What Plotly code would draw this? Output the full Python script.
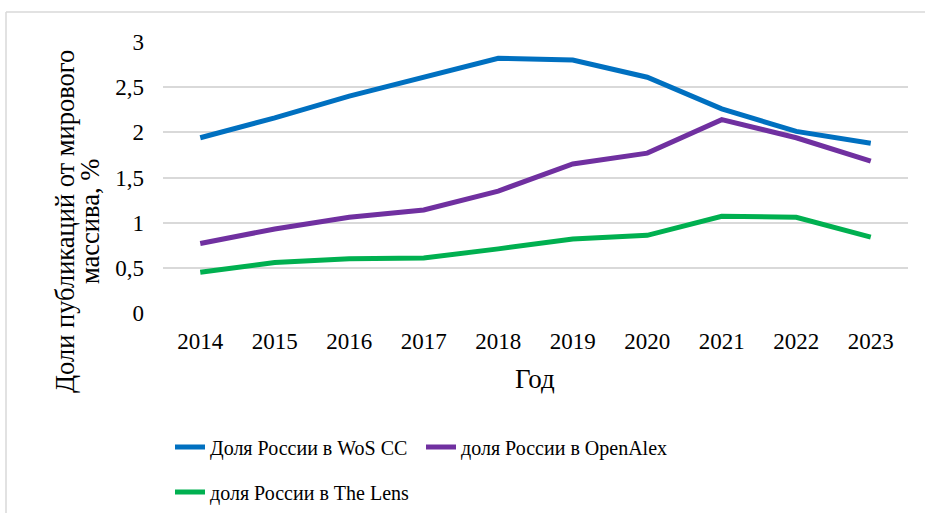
import plotly.graph_objects as go

years = ["2014", "2015", "2016", "2017", "2018", "2019", "2020", "2021", "2022", "2023"]
wos = [1.94, 2.16, 2.40, 2.61, 2.82, 2.80, 2.61, 2.26, 2.01, 1.88]
openalex = [0.77, 0.93, 1.06, 1.14, 1.35, 1.65, 1.77, 2.14, 1.94, 1.68]
lens = [0.45, 0.56, 0.60, 0.61, 0.71, 0.82, 0.86, 1.07, 1.06, 0.84]

names = ["Доля России в WoS CC", "доля России в OpenAlex", "доля России в The Lens"]
colors = ["#0070C0", "#7030A0", "#00B050"]
FONT = "Times New Roman, Liberation Serif, DejaVu Serif, serif"

fig = go.Figure()
fig.add_trace(go.Scatter(x=years, y=wos, mode="lines", name=names[0],
                         line=dict(color=colors[0], width=5), legend="legend"))
fig.add_trace(go.Scatter(x=years, y=openalex, mode="lines", name=names[1],
                         line=dict(color=colors[1], width=5), legend="legend"))
fig.add_trace(go.Scatter(x=years, y=lens, mode="lines", name=names[2],
                         line=dict(color=colors[2], width=5), legend="legend2"))

L, R, T, B = 163, 17, 42, 200
W, H = 925, 513
pw, ph = W - L - R, H - T - B

def px_x(x):
    return (x - L) / pw

def px_y(y):
    return 1 - (y - T) / ph

fig.update_layout(
    width=W, height=H,
    margin=dict(l=L, r=R, t=T, b=B, autoexpand=False),
    paper_bgcolor="white", plot_bgcolor="white",
    separators=", ",
    font=dict(family=FONT, size=18, color="#000000"),
    showlegend=True,
    legend=dict(orientation="h", x=px_x(170), y=px_y(447), xanchor="left", yanchor="middle",
                entrywidth=206, maxheight=300, font=dict(family=FONT, size=20),
                bgcolor="rgba(0,0,0,0)"),
    legend2=dict(orientation="h", x=px_x(170), y=px_y(492), xanchor="left", yanchor="middle",
                 maxheight=300, font=dict(family=FONT, size=20), bgcolor="rgba(0,0,0,0)"),
    xaxis=dict(type="category", range=[-0.5, 9.5], showgrid=False, showline=False, zeroline=False,
               ticks="", tickfont=dict(family=FONT, size=23), ticklabelstandoff=12),
    yaxis=dict(range=[0, 3], dtick=0.5, showgrid=True, gridcolor="#d9d9d9", gridwidth=1.5,
               zeroline=False, showline=False, ticks="",
               tickfont=dict(family=FONT, size=23), ticklabelstandoff=18),
    annotations=[
        dict(text="Доли публикаций от мирового", textangle=-90,
             xref="paper", yref="paper", x=px_x(65), y=px_y(222),
             xanchor="center", yanchor="middle", showarrow=False,
             font=dict(family=FONT, size=26.5)),
        dict(text="массива, %", textangle=-90,
             xref="paper", yref="paper", x=px_x(90), y=px_y(222),
             xanchor="center", yanchor="middle", showarrow=False,
             font=dict(family=FONT, size=26.5)),
        dict(text="Год", xref="paper", yref="paper", x=px_x(535), y=px_y(379),
             xanchor="center", yanchor="middle", showarrow=False,
             font=dict(family=FONT, size=27)),
    ],
    shapes=[
        dict(type="line", xref="paper", yref="paper", x0=px_x(6), x1=px_x(930),
             y0=px_y(12), y1=px_y(12), line=dict(color="#d9d9d9", width=1.5)),
        dict(type="line", xref="paper", yref="paper", x0=px_x(6), x1=px_x(6),
             y0=px_y(12), y1=px_y(520), line=dict(color="#d9d9d9", width=1.5)),
    ],
)

fig.write_html("out.html", config={"displayModeBar": False})

css = ("<style>html,body{margin:0;padding:0;width:925px;height:513px;overflow:hidden;}"
       ".plotly-graph-div{position:absolute;top:0;left:0;}</style>")
with open("out.html", "r", encoding="utf-8") as f:
    html = f.read()
html = html.replace("<head>", "<head>" + css, 1)
with open("out.html", "w", encoding="utf-8") as f:
    f.write(html)
